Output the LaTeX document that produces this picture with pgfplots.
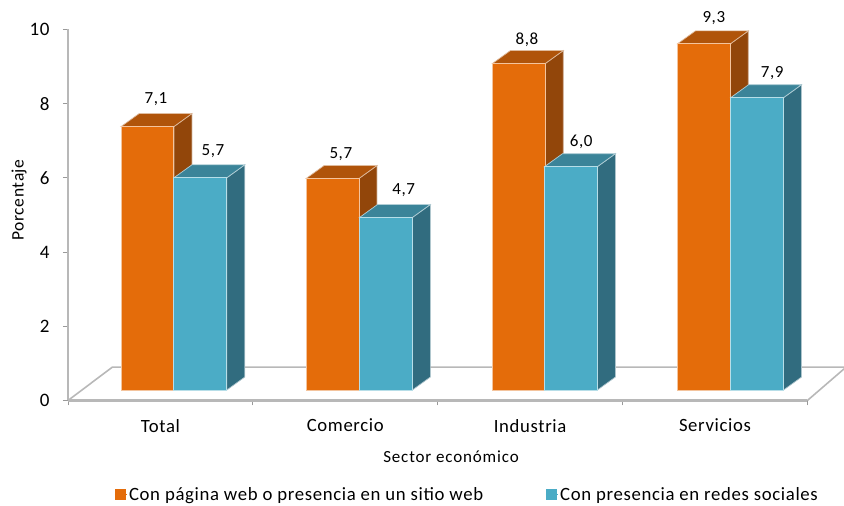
\documentclass[border=0pt]{standalone}
\usepackage{fontspec}
\setmainfont[LetterSpace=3.5]{Carlito}
\usepackage{pgfplots}
\pgfplotsset{compat=1.18}
\definecolor{oF}{HTML}{E46C0A}
\definecolor{oT}{HTML}{B0540A}
\definecolor{oS}{HTML}{92460A}
\definecolor{bF}{HTML}{4BACC6}
\definecolor{bT}{HTML}{3B8499}
\definecolor{bS}{HTML}{316C7F}
\definecolor{axg}{HTML}{B8B8B8}
% left edge (category units), value, colours
\newcommand{\threedbar}[5]{%
  \pgfmathsetmacro{\xa}{#1}\pgfmathsetmacro{\xb}{#1+0.286}%
  \pgfmathsetmacro{\xc}{\xa+0.0974}\pgfmathsetmacro{\xd}{\xb+0.0974}%
  \pgfmathsetmacro{\ya}{0.283}\pgfmathsetmacro{\yb}{0.283+#2}%
  \pgfmathsetmacro{\yc}{\ya+0.35}\pgfmathsetmacro{\yd}{\yb+0.35}%
  \addplot[fill=#5,draw=white!60!#5,line width=0.7pt,forget plot] coordinates {(\xb,\ya)(\xd,\yc)(\xd,\yd)(\xb,\yb)} --cycle;
  \addplot[fill=#4,draw=white!60!#4,line width=0.7pt,forget plot] coordinates {(\xa,\yb)(\xc,\yd)(\xd,\yd)(\xb,\yb)} --cycle;
  \addplot[fill=#3,draw=white!60!#3,line width=0.9pt,forget plot] coordinates {(\xa,\ya)(\xb,\ya)(\xb,\yb)(\xa,\yb)} --cycle;
}
\begin{document}
\begin{tikzpicture}[x=1pt,y=1pt]
\path[use as bounding box] (0,0) rectangle (844,506);
\begin{axis}[
  at={(68pt,105.5pt)},anchor=south west,
  scale only axis,width=739.4pt,height=371pt,
  xmin=0,xmax=4,ymin=0,ymax=10,
  clip=false,
  axis line style={axg,line width=2.2pt},
  axis x line*=bottom,axis y line*=left,
  axis line style={-},
  xtick={0.5,1.5,2.5,3.5},
  xticklabels={Total,Comercio,Industria,Servicios},
  minor xtick={0,1,2,3,4},
  ytick={0,2,4,6,8,10},
  major x tick style={draw=none},
  minor x tick style={draw=gray!80,line width=0.8pt},
  minor tick length=5pt,
  y tick style={draw=gray!80,line width=0.8pt},
  tick align=outside,
  major tick length=5pt,
  /pgf/number format/assume math mode=true,
  xticklabel style={font=\fontsize{18.7}{22}\selectfont,text=black,yshift=-10pt},
  yticklabel style={font=\fontsize{19}{22}\selectfont,text=black,xshift=-10pt},
  xlabel={Sector económico},ylabel={Porcentaje},
  xlabel style={font=\fontsize{17}{18}\selectfont\addfontfeature{LetterSpace=5},at={(axis description cs:0.518,-0.152)},anchor=center},
  ylabel style={font=\fontsize{17.5}{18}\selectfont,at={(axis description cs:-0.066,0.54)},anchor=center,rotate=0},
  legend style={at={(axis description cs:0.54,-0.253)},anchor=center,draw=none,fill=none,
    legend columns=2,font=\fontsize{18.75}{20}\selectfont,inner sep=0pt,
    /tikz/every even column/.append style={column sep=60.5pt}},
  legend image code/.code={\fill[#1] (0pt,-5pt) rectangle (10pt,5pt);\path (0pt,0pt) -- (12pt,0pt);},
]
\addlegendimage{oF}\addlegendentry{Con página web o presencia en un sitio web}
\addlegendimage{bF}\addlegendentry{Con presencia en redes sociales}
% floor
\addplot[axg,line width=1.6pt,forget plot] coordinates {(0,0)(0.24,0.9)(4.2,0.9)};
\addplot[axg,line width=1.6pt,forget plot] coordinates {(4,0)(4.2,0.86)};
\threedbar{0.287}{7.1}{oF}{oT}{oS}
\threedbar{0.573}{5.72}{bF}{bT}{bS}
\threedbar{1.288}{5.7}{oF}{oT}{oS}
\threedbar{1.577}{4.65}{bF}{bT}{bS}
\threedbar{2.296}{8.8}{oF}{oT}{oS}
\threedbar{2.578}{6.02}{bF}{bT}{bS}
\threedbar{3.297}{9.33}{oF}{oT}{oS}
\threedbar{3.585}{7.88}{bF}{bT}{bS}
\node[font=\fontsize{17}{18}\selectfont] at (axis cs:0.476,8.11) {7,1};
\node[font=\fontsize{17}{18}\selectfont] at (axis cs:0.784,6.71) {5,7};
\node[font=\fontsize{17}{18}\selectfont] at (axis cs:1.476,6.64) {5,7};
\node[font=\fontsize{17}{18}\selectfont] at (axis cs:1.816,5.68) {4,7};
\node[font=\fontsize{17}{18}\selectfont] at (axis cs:2.483,9.73) {8,8};
\node[font=\fontsize{17}{18}\selectfont] at (axis cs:2.776,6.97) {6,0};
\node[font=\fontsize{17}{18}\selectfont] at (axis cs:3.494,10.31) {9,3};
\node[font=\fontsize{17}{18}\selectfont] at (axis cs:3.81,8.83) {7,9};
\end{axis}
\end{tikzpicture}
\end{document}
